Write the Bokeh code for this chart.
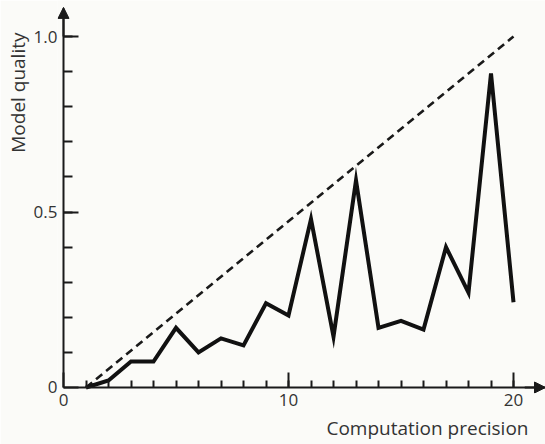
from bokeh.plotting import figure
from bokeh.models import FixedTicker, Arrow, NormalHead, Range1d, Title, LinearAxis
from bokeh.embed import file_html
from bokeh.resources import INLINE

# Data
precision = list(range(1, 21))
quality = [0.0, 0.02, 0.074, 0.074, 0.17, 0.10, 0.14, 0.12, 0.24, 0.205,
           0.48, 0.145, 0.59, 0.17, 0.19, 0.165, 0.40, 0.27, 0.895, 0.243]
ideal_x = [1, 20]
ideal_y = [0.0, 1.0]
x_ticks = [0, 10, 20]
x_minor = list(range(1, 21))
y_ticks = [0, 0.5, 1.0]
y_labels = {0: "0", 0.5: "0.5", 1: "1.0"}
y_minor = [i / 10 for i in range(1, 11)]

FONT = "Open Sans"
INK = "#1a1a1a"
TXT = "#333333"
BG = "#fbfbf8"

X_END = 21.422
Y_END = 1.1026

p = figure(width=545, height=444, output_backend="svg", toolbar_location=None,
           x_range=Range1d(-0.2667, X_END), y_range=Range1d(-0.0171, Y_END),
           min_border_left=57, min_border_right=0, min_border_top=0,
           min_border_bottom=51)
p.background_fill_color = BG
p.border_fill_color = BG
p.outline_line_color = None
p.grid.visible = False

# primary axes: tick labels only
p.xaxis.ticker = FixedTicker(ticks=x_ticks)
p.yaxis.ticker = FixedTicker(ticks=y_ticks)
p.yaxis.major_label_overrides = y_labels
for ax in (p.xaxis, p.yaxis):
    ax.axis_line_color = None
    ax.major_tick_line_color = None
    ax.minor_tick_line_color = None
    ax.major_tick_out = 0
    ax.minor_tick_out = 0
    ax.major_tick_in = 0
    ax.minor_tick_in = 0
    ax.major_label_text_font = FONT
    ax.major_label_text_font_size = "17px"
    ax.major_label_text_color = TXT
    ax.major_label_standoff = 0

# axis lines with inward ticks, placed at the data origin
x_line = LinearAxis(fixed_location=0, bounds=(0, X_END),
                    ticker=FixedTicker(ticks=x_ticks, minor_ticks=x_minor))
y_line = LinearAxis(fixed_location=0, bounds=(0, 1.08),
                    ticker=FixedTicker(ticks=y_ticks, minor_ticks=y_minor))
for ax in (x_line, y_line):
    ax.axis_line_color = INK
    ax.axis_line_width = 2
    ax.major_tick_line_color = INK
    ax.minor_tick_line_color = INK
    ax.major_tick_line_width = 2
    ax.minor_tick_line_width = 2
    ax.major_tick_out = 0
    ax.minor_tick_out = 0
    ax.major_label_text_alpha = 0
    ax.major_label_text_font_size = "10px"
x_line.major_tick_in = 15
x_line.minor_tick_in = 7
y_line.major_tick_in = 15
y_line.minor_tick_in = 9
p.add_layout(x_line, "below")
p.add_layout(y_line, "left")

# arrows at axis ends
p.add_layout(Arrow(x_start=0, y_start=1.0, x_end=0, y_end=1.083,
                   line_color=INK, line_width=2,
                   end=NormalHead(size=11, fill_color=INK, line_color=INK)))
p.add_layout(Arrow(x_start=20.5, y_start=0, x_end=X_END, y_end=0,
                   line_color=INK, line_width=2,
                   end=NormalHead(size=11, fill_color=INK, line_color=INK)))

# ideal dashed line
p.line(ideal_x, ideal_y, line_color=INK, line_width=2.6, line_dash="8 5")
# model quality line
p.line(precision, quality, line_color="#111111", line_width=4, line_join="miter")

# axis titles
p.add_layout(Title(text="Computation precision", align="right", offset=17,
                   standoff=8, text_font=FONT, text_font_size="19px",
                   text_font_style="normal", text_color=TXT), "below")
p.add_layout(Title(text="Model quality", align="right", offset=32,
                   standoff=0, text_font=FONT, text_font_size="19px",
                   text_font_style="normal", text_color=TXT), "left")

open("out.html", "w").write(file_html(p, INLINE))
